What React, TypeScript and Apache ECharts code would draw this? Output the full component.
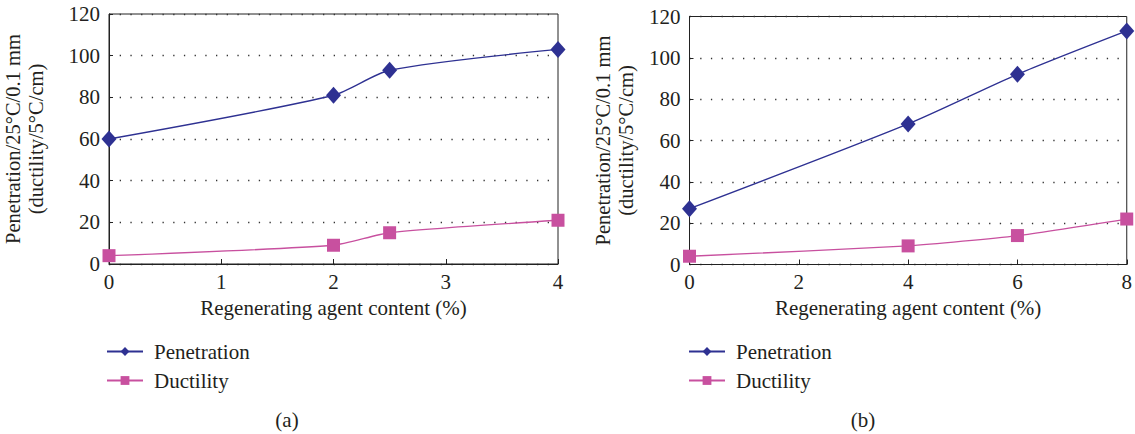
import React, { useEffect, useRef } from "react";
import * as echarts from "echarts";

// Panel (a): regenerating agent content 0–4 %
const contentA = [0, 2, 2.5, 4];
const penetrationA = [60, 81, 93, 103];
const ductilityA = [4, 9, 15, 21];

// Panel (b): regenerating agent content 0–8 %
const contentB = [0, 4, 6, 8];
const penetrationB = [27, 68, 92, 113];
const ductilityB = [4, 9, 14, 22];

const seriesNames = ["Penetration", "Ductility"];
const captions = ["(a)", "(b)"];

const FONT = "'Liberation Serif', 'DejaVu Serif', serif";
const TEXT = "#231f20";
const NAVY = "#2e3192";
const PINK = "#c8509f";

const pairs = (xs: number[], ys: number[]) => xs.map((x, i) => [x, ys[i]]);

export default function App() {
  const ref = useRef<HTMLDivElement>(null);

  useEffect(() => {
    document.body.style.margin = "0";
    const chart = echarts.init(ref.current!, undefined, { renderer: "svg" });

    const grids = [
      { left: 106, top: 14, width: 452, height: 250 },
      { left: 689.5, top: 16.5, width: 439, height: 248 },
    ];
    const xMax = [4, 8];
    const xInterval = [1, 2];
    const yNameGap = [62, 52];

    const xAxis = grids.map((_, i) => ({
      type: "value",
      gridIndex: i,
      min: 0,
      max: xMax[i],
      interval: xInterval[i],
      name: "Regenerating agent content (%)",
      nameLocation: "middle",
      nameGap: 33,
      nameTextStyle: { fontFamily: FONT, fontSize: 21, color: TEXT },
      axisLine: { show: true, lineStyle: { color: "#222", width: 1 } },
      axisTick: { show: true, inside: true, length: 5, lineStyle: { color: "#222" } },
      axisLabel: { fontFamily: FONT, fontSize: 21, color: TEXT, margin: 7 },
      splitLine: { show: false },
    }));

    const yAxis = grids.map((_, i) => ({
      type: "value",
      gridIndex: i,
      min: 0,
      max: 120,
      interval: 20,
      name: "Penetration/25°C/0.1 mm\n(ductility/5°C/cm)",
      nameLocation: "middle",
      nameRotate: 90,
      nameGap: yNameGap[i],
      nameTextStyle: { fontFamily: FONT, fontSize: 20.5, color: TEXT, lineHeight: 23 },
      axisLine: { show: true, lineStyle: { color: "#222", width: 1 } },
      axisTick: { show: true, inside: true, length: 4, lineStyle: { color: "#222" } },
      axisLabel: { fontFamily: FONT, fontSize: 21, color: TEXT, margin: 9 },
      splitLine: {
        show: true,
        lineStyle: { color: "#333", width: 1.3, type: [1.3, 9.4] },
      },
    }));

    const makeSeries = (i: number, xs: number[], pen: number[], duc: number[]) => [
      {
        name: seriesNames[0],
        type: "line",
        xAxisIndex: i,
        yAxisIndex: i,
        data: pairs(xs, pen),
        smooth: 0.25,
        symbol: "diamond",
        symbolSize: [15, 17],
        lineStyle: { color: NAVY, width: 1.3 },
        itemStyle: { color: NAVY },
        z: 3,
      },
      {
        name: seriesNames[1],
        type: "line",
        xAxisIndex: i,
        yAxisIndex: i,
        data: pairs(xs, duc),
        smooth: 0.2,
        symbol: "rect",
        symbolSize: 13,
        lineStyle: { color: PINK, width: 1.3 },
        itemStyle: { color: PINK },
        z: 3,
      },
    ];

    const legendBase = {
      orient: "vertical",
      data: seriesNames,
      selectedMode: false,
      itemWidth: 36,
      itemHeight: 11,
      itemGap: 8,
      textStyle: { fontFamily: FONT, fontSize: 21, color: TEXT, padding: [0, 0, 0, 6] },
      padding: 0,
    };

    chart.setOption({
      animation: false,
      backgroundColor: "#ffffff",
      grid: grids.map((g) => ({
        ...g,
        show: true,
        borderColor: "#222",
        borderWidth: 1,
        backgroundColor: "transparent",
      })),
      xAxis,
      yAxis,
      legend: [
        { ...legendBase, left: 106, top: 341 },
        { ...legendBase, left: 688, top: 341 },
      ],
      series: [
        ...makeSeries(0, contentA, penetrationA, ductilityA),
        ...makeSeries(1, contentB, penetrationB, ductilityB),
      ],
      graphic: [
        {
          type: "text",
          x: 287,
          y: 420,
          style: {
            text: captions[0],
            font: `21px ${FONT}`,
            fill: TEXT,
            align: "center",
            verticalAlign: "middle",
          },
        },
        {
          type: "text",
          x: 863,
          y: 420,
          style: {
            text: captions[1],
            font: `21px ${FONT}`,
            fill: TEXT,
            align: "center",
            verticalAlign: "middle",
          },
        },
      ],
    });

    return () => chart.dispose();
  }, []);

  return <div ref={ref} style={{ width: 1135, height: 434 }} />;
}
